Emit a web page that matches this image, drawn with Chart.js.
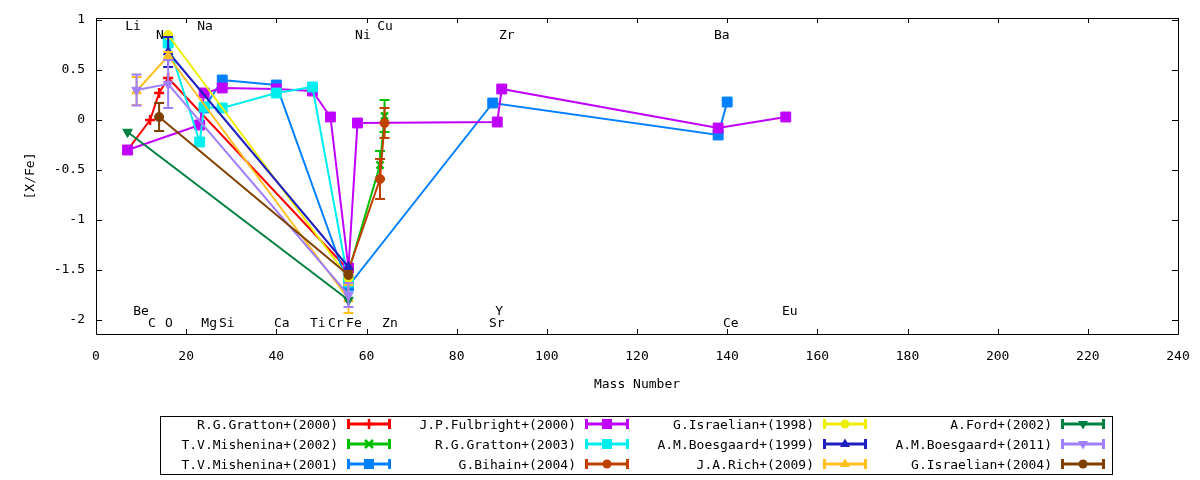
<!DOCTYPE html>
<html><head><meta charset="utf-8">
<script src="https://cdn.jsdelivr.net/npm/chart.js@4.4.1/dist/chart.umd.min.js"></script>
<style>
html,body{margin:0;padding:0;background:#fff;}
#wrap{position:relative;width:1200px;height:480px;overflow:hidden;font-family:'DejaVu Sans Mono',monospace;color:#000;}
#c{position:absolute;left:0;top:0;}
#legend{position:absolute;left:160px;top:416px;width:953px;height:59px;border:1px solid #000;box-sizing:border-box;}
.item{position:absolute;height:20px;display:flex;align-items:center;font-size:13px;}
.item span{display:inline-block;width:177px;text-align:right;white-space:nowrap;}
.item svg{margin-left:9px;display:block;}
</style></head>
<body><div id="wrap"><canvas id="c" width="1200" height="480"></canvas><div id="legend"></div></div>
<script>
// ---------- data ----------
const xTickValues = [0,20,40,60,80,100,120,140,160,180,200,220,240];
const yTickValues = [-2,-1.5,-1,-0.5,0,0.5,1];

const seriesNames = [
  'R.G.Gratton+(2000)','T.V.Mishenina+(2002)','T.V.Mishenina+(2001)',
  'J.P.Fulbright+(2000)','R.G.Gratton+(2003)','G.Bihain+(2004)',
  'G.Israelian+(1998)','A.M.Boesgaard+(1999)','J.A.Rich+(2009)',
  'A.Ford+(2002)','A.M.Boesgaard+(2011)','G.Israelian+(2004)'
];

const gratton2000Mass = [7, 12, 14, 16, 56];
const gratton2000Val  = [-0.30, 0.00, 0.27, 0.42, -1.50];
const gratton2000Err  = [0, 0, 0, 0, 0];

const mishenina2002Mass = [56, 63, 64];
const mishenina2002Val  = [-1.52, -0.45, 0.04];
const mishenina2002Err  = [0, 0.14, 0.16];

const mishenina2001Mass = [24, 28, 40, 56, 88, 138, 140];
const mishenina2001Val  = [0.12, 0.40, 0.35, -1.66, 0.17, -0.15, 0.18];
const mishenina2001Err  = [0, 0, 0, 0, 0, 0, 0];

const fulbright2000Mass = [7, 23, 24, 28, 40, 48, 52, 56, 58, 89, 90, 138, 153];
const fulbright2000Val  = [-0.30, -0.05, 0.27, 0.32, 0.31, 0.29, 0.03, -1.48, -0.03, -0.02, 0.31, -0.08, 0.03];
const fulbright2000Err  = [0,0,0,0,0,0,0,0,0,0,0,0,0];

const gratton2003Mass = [16, 23, 24, 28, 40, 48, 56];
const gratton2003Val  = [0.77, -0.22, 0.13, 0.12, 0.27, 0.33, -1.62];
const gratton2003Err  = [0, 0, 0, 0, 0, 0, 0];

const bihain2004Mass = [56, 63, 64];
const bihain2004Val  = [-1.50, -0.59, -0.03];
const bihain2004Err  = [0, 0.20, 0.15];

const israelian1998Mass = [16, 56];
const israelian1998Val  = [0.85, -1.58];
const israelian1998Err  = [0, 0];

const boesgaard1999Mass = [16, 56];
const boesgaard1999Val  = [0.68, -1.47];
const boesgaard1999Err  = [0.15, 0];

const rich2009Mass = [9, 16, 56];
const rich2009Val  = [0.29, 0.64, -1.79];
const rich2009Err  = [0.14, 0.04, 0.14];

const ford2002Mass = [7, 56];
const ford2002Val  = [-0.12, -1.80];
const ford2002Err  = [0, 0];

const boesgaard2011Mass = [9, 16, 56];
const boesgaard2011Val  = [0.30, 0.36, -1.75];
const boesgaard2011Err  = [0.155, 0.24, 0.12];

const israelian2004Mass = [14, 56];
const israelian2004Val  = [0.03, -1.55];
const israelian2004Err  = [0.14, 0];

// element annotations (text, x in mass units, y in [X/Fe] units)
const topLabelText = ['Li','N','Na','Ni','Cu','Zr','Ba'];
const topLabelX    = [8.2, 14.2, 24.2, 59.2, 64.1, 91.1, 138.8];
const topLabelY    = [0.93, 0.84, 0.93, 0.84, 0.93, 0.84, 0.84];
const bottomLabelText = ['Be','C','O','Mg','Si','Ca','Ti','Cr','Fe','Zn','Y','Sr','Ce','Eu'];
const bottomLabelX    = [10.0, 12.4, 16.2, 25.1, 29.0, 41.2, 49.2, 53.2, 57.2, 65.2, 89.4, 88.9, 140.8, 153.9];
const bottomLabelY    = [-1.92, -2.04, -2.04, -2.04, -2.04, -2.04, -2.04, -2.04, -2.04, -2.04, -1.92, -2.04, -2.04, -1.92];

// ---------- styling ----------
const masses = [gratton2000Mass, mishenina2002Mass, mishenina2001Mass, fulbright2000Mass, gratton2003Mass, bihain2004Mass,
                israelian1998Mass, boesgaard1999Mass, rich2009Mass, ford2002Mass, boesgaard2011Mass, israelian2004Mass];
const values = [gratton2000Val, mishenina2002Val, mishenina2001Val, fulbright2000Val, gratton2003Val, bihain2004Val,
                israelian1998Val, boesgaard1999Val, rich2009Val, ford2002Val, boesgaard2011Val, israelian2004Val];
const errors = [gratton2000Err, mishenina2002Err, mishenina2001Err, fulbright2000Err, gratton2003Err, bihain2004Err,
                israelian1998Err, boesgaard1999Err, rich2009Err, ford2002Err, boesgaard2011Err, israelian2004Err];
const colors = ['#ff0000','#00c000','#0080ff','#c000ff','#00eeee','#c04000','#eeee00','#2020c0','#ffc020','#008040','#a080ff','#804000'];
const markers = ['cross','crossRot','rect','rect','rect','circle','circle','triangle','triangle','triangleDown','triangleDown','circle'];

const FONT = "'DejaVu Sans Mono', monospace";

const datasets = seriesNames.map((name, i) => {
  const m = markers[i];
  const isDown = m === 'triangleDown';
  const style = isDown ? 'triangle' : m;
  const radius = (m === 'rect') ? 7 : (m === 'circle' ? 4.5 : (m.startsWith('triangle') ? 5.5 : 5));
  return {
    label: name,
    data: masses[i].map((x, k) => ({x: x, y: values[i][k]})),
    errs: errors[i],
    borderColor: colors[i],
    backgroundColor: colors[i],
    borderWidth: 2,
    showLine: true,
    tension: 0,
    pointStyle: style,
    pointRotation: isDown ? 180 : 0,
    pointRadius: radius,
    pointHoverRadius: radius,
    pointBorderWidth: (m === 'cross' || m === 'crossRot') ? 2.5 : 1,
    pointBackgroundColor: colors[i],
    pointBorderColor: colors[i],
    order: -i
  };
});

const errorBarPlugin = {
  id: 'errorBars',
  afterDatasetDraw(chart, args) {
    const ds = chart.data.datasets[args.index];
    if (!ds.errs) return;
    const ctx = chart.ctx, ys = chart.scales.y;
    ctx.save();
    ctx.strokeStyle = ds.borderColor;
    ctx.lineWidth = 2;
    args.meta.data.forEach((pt, k) => {
      const e = ds.errs[k];
      if (!e) return;
      const v = ds.data[k].y;
      const y1 = ys.getPixelForValue(v + e), y2 = ys.getPixelForValue(v - e);
      ctx.beginPath();
      ctx.moveTo(pt.x, y1); ctx.lineTo(pt.x, y2);
      ctx.moveTo(pt.x - 5, y1); ctx.lineTo(pt.x + 5, y1);
      ctx.moveTo(pt.x - 5, y2); ctx.lineTo(pt.x + 5, y2);
      ctx.stroke();
    });
    ctx.restore();
  }
};

const framePlugin = {
  id: 'frame',
  beforeDatasetsDraw(chart) {
    const ctx = chart.ctx, xs = chart.scales.x, ys = chart.scales.y;
    ctx.save();
    ctx.fillStyle = '#000';
    ctx.font = "13px " + FONT;
    ctx.textAlign = 'center';
    ctx.textBaseline = 'middle';
    topLabelText.forEach((t, i) => ctx.fillText(t, xs.getPixelForValue(topLabelX[i]), ys.getPixelForValue(topLabelY[i])));
    bottomLabelText.forEach((t, i) => ctx.fillText(t, xs.getPixelForValue(bottomLabelX[i]), ys.getPixelForValue(bottomLabelY[i])));
    ctx.restore();
  },
  afterDraw(chart) {
    const ctx = chart.ctx, a = chart.chartArea, xs = chart.scales.x, ys = chart.scales.y;
    ctx.save();
    ctx.strokeStyle = '#000';
    ctx.lineWidth = 1;
    ctx.beginPath();
    ctx.rect(Math.round(a.left) + 0.5, Math.round(a.top) + 0.5, Math.round(a.right - a.left), Math.round(a.bottom - a.top));
    xTickValues.forEach(v => {
      const px = Math.round(xs.getPixelForValue(v)) + 0.5;
      ctx.moveTo(px, a.bottom); ctx.lineTo(px, a.bottom - 5);
      ctx.moveTo(px, a.top); ctx.lineTo(px, a.top + 5);
    });
    yTickValues.forEach(v => {
      const py = Math.round(ys.getPixelForValue(v)) + 0.5;
      ctx.moveTo(a.left, py); ctx.lineTo(a.left + 6, py);
      ctx.moveTo(a.right, py); ctx.lineTo(a.right - 6, py);
    });
    ctx.stroke();
    ctx.restore();
  }
};

new Chart(document.getElementById('c'), {
  type: 'scatter',
  data: { datasets },
  options: {
    responsive: false,
    animation: false,
    devicePixelRatio: 1,
    layout: { padding: { left: 0, right: 22, top: 18, bottom: 86 } },
    plugins: { legend: { display: false }, tooltip: { enabled: false } },
    scales: {
      x: {
        type: 'linear', min: 0, max: 240,
        afterBuildTicks: s => { s.ticks = xTickValues.map(v => ({value: v})); },
        afterFit: s => { s.height = 60; s.paddingLeft = 0; s.paddingRight = 0; },
        ticks: { color: '#000', font: { family: FONT, size: 13 }, padding: 15, maxRotation: 0, autoSkip: false,
                 callback: v => String(v) },
        grid: { display: false, drawTicks: false },
        border: { display: false },
        title: { display: true, text: 'Mass Number', color: '#000', font: { family: FONT, size: 13 }, padding: { top: 0, bottom: 2 } }
      },
      y: {
        type: 'linear', min: -2.14, max: 1.02,
        afterBuildTicks: s => { s.ticks = yTickValues.map(v => ({value: v})); },
        afterFit: s => { s.width = 96; s.paddingTop = 0; s.paddingBottom = 0; },
        ticks: { color: '#000', font: { family: FONT, size: 13 }, padding: 11, autoSkip: false,
                 callback: v => String(v) },
        grid: { display: false, drawTicks: false },
        border: { display: false },
        title: { display: true, text: '[X/Fe]', color: '#000', font: { family: FONT, size: 13 }, padding: { top: 23, bottom: 0 } }
      }
    }
  },
  plugins: [errorBarPlugin, framePlugin]
});

// ---------- legend (HTML) ----------
function markerSvg(m, c) {
  const cx = 22, cy = 10;
  switch (m) {
    case 'cross': return `<path d="M${cx-5} ${cy}H${cx+5}M${cx} ${cy-5}V${cy+5}" stroke="${c}" stroke-width="2.5"/>`;
    case 'crossRot': return `<path d="M${cx-4} ${cy-4}L${cx+4} ${cy+4}M${cx-4} ${cy+4}L${cx+4} ${cy-4}" stroke="${c}" stroke-width="2.5"/>`;
    case 'rect': return `<rect x="${cx-5}" y="${cy-5}" width="10" height="10" fill="${c}"/>`;
    case 'circle': return `<circle cx="${cx}" cy="${cy}" r="4.5" fill="${c}"/>`;
    case 'triangle': return `<path d="M${cx} ${cy-5.5}L${cx+5} ${cy+3}L${cx-5} ${cy+3}Z" fill="${c}"/>`;
    case 'triangleDown': return `<path d="M${cx} ${cy+5.5}L${cx+5} ${cy-3}L${cx-5} ${cy-3}Z" fill="${c}"/>`;
  }
  return '';
}
const legend = document.getElementById('legend');
seriesNames.forEach((name, i) => {
  const col = Math.floor(i / 3), row = i % 3;
  const c = colors[i];
  const div = document.createElement('div');
  div.className = 'item';
  div.style.left = (238 * col) + 'px';
  div.style.top = (-3 + 20 * row) + 'px';
  div.innerHTML = `<span>${name}</span><svg width="44" height="20" viewBox="0 0 44 20">
    <path d="M0 10H44M1.5 5V15M42.5 5V15" stroke="${c}" stroke-width="3" fill="none"/>${markerSvg(markers[i], c)}</svg>`;
  legend.appendChild(div);
});
</script>
</body></html>
